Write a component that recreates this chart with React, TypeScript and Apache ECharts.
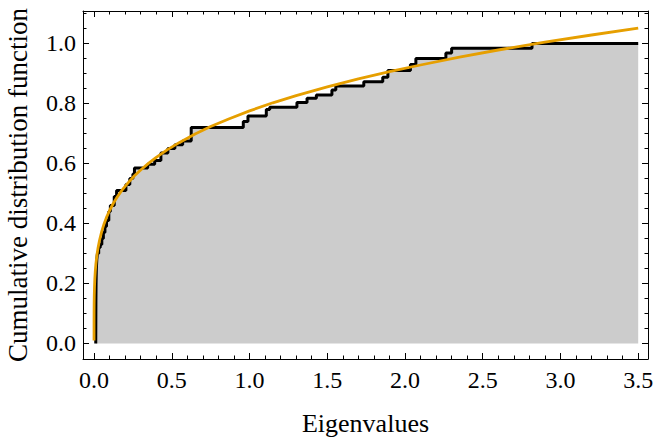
import React, { useEffect, useRef } from 'react';
import * as echarts from 'echarts';

// Empirical CDF (step positions and levels)
const cdfX = [0.011, 0.012, 0.013, 0.015, 0.018, 0.022, 0.03, 0.04, 0.05, 0.06, 0.07, 0.08, 0.095, 0.105, 0.13, 0.145, 0.205, 0.23, 0.25, 0.26, 0.345, 0.39, 0.43, 0.475, 0.52, 0.57, 0.625, 0.96, 0.99, 1.108, 1.13, 1.305, 1.37, 1.43, 1.53, 1.555, 1.735, 1.857, 1.89, 2.035, 2.07, 2.263, 2.3, 2.817, 3.5];
const cdfY = [0, 0.14, 0.2, 0.25, 0.28, 0.3, 0.32, 0.33, 0.35, 0.37, 0.39, 0.41, 0.44, 0.46, 0.49, 0.51, 0.53, 0.55, 0.565, 0.585, 0.597, 0.61, 0.635, 0.65, 0.662, 0.675, 0.72, 0.74, 0.758, 0.78, 0.787, 0.803, 0.817, 0.828, 0.845, 0.858, 0.872, 0.887, 0.91, 0.93, 0.95, 0.968, 0.984, 1.0, 1.0];

// Fitted curve (orange)
const fitX = [0, 0.00002, 0.0001, 0.0003, 0.0007, 0.0015, 0.003, 0.005, 0.008, 0.012, 0.018, 0.025, 0.035, 0.05, 0.065, 0.08, 0.1, 0.125, 0.15, 0.18, 0.22, 0.26, 0.3, 0.35, 0.4, 0.47, 0.55, 0.65, 0.75, 0.87, 1.0, 1.15, 1.3, 1.5, 1.7, 1.9, 2.1, 2.35, 2.6, 2.9, 3.2, 3.5];
const fitY = [0.01, 0.056, 0.083, 0.108, 0.133, 0.16, 0.189, 0.215, 0.24, 0.265, 0.292, 0.316, 0.343, 0.374, 0.399, 0.42, 0.443, 0.468, 0.489, 0.511, 0.536, 0.559, 0.578, 0.6, 0.62, 0.645, 0.67, 0.698, 0.723, 0.749, 0.775, 0.802, 0.826, 0.855, 0.882, 0.906, 0.928, 0.954, 0.978, 1.004, 1.028, 1.051];

// Ticks
const majorX = [0, 0.5, 1.0, 1.5, 2.0, 2.5, 3.0, 3.5];
const minorX = [0.1, 0.2, 0.3, 0.4, 0.6, 0.7, 0.8, 0.9, 1.1, 1.2, 1.3, 1.4, 1.6, 1.7, 1.8, 1.9, 2.1, 2.2, 2.3, 2.4, 2.6, 2.7, 2.8, 2.9, 3.1, 3.2, 3.3, 3.4];
const majorY = [0, 0.2, 0.4, 0.6, 0.8, 1.0];
const minorY = [0.05, 0.1, 0.15, 0.25, 0.3, 0.35, 0.45, 0.5, 0.55, 0.65, 0.7, 0.75, 0.85, 0.9, 0.95, 1.05, 1.1];

const X_MIN = -0.071;
const X_MAX = 3.563;
const Y_MIN = -0.052;
const Y_MAX = 1.108;

const FONT = 'Liberation Serif';
const BLACK = '#000000';

function axis(kind: 'x' | 'y', position: string, ticks: number[], major: boolean, showLine: boolean, withLabels: boolean, extra: any = {}) {
  return {
    type: 'value',
    position,
    min: kind === 'x' ? X_MIN : Y_MIN,
    max: kind === 'x' ? X_MAX : Y_MAX,
    splitLine: { show: false },
    axisLine: { show: showLine, onZero: false, lineStyle: { color: BLACK, width: 1 } },
    axisTick: {
      show: true,
      inside: true,
      length: major ? 6 : 3.5,
      customValues: ticks,
      lineStyle: { color: BLACK, width: 1 },
    },
    axisLabel: withLabels
      ? {
          show: true,
          customValues: ticks,
          formatter: (v: number) => v.toFixed(1),
          fontFamily: FONT,
          fontSize: 24,
          color: BLACK,
          margin: kind === 'x' ? 9 : 7,
        }
      : { show: false },
    ...extra,
  };
}

export default function App() {
  const ref = useRef<HTMLDivElement>(null);
  useEffect(() => {
    if (!ref.current) return;
    const chart = echarts.init(ref.current, null, { renderer: 'svg' });
    const cdfData = cdfX.map((x, i) => [x, cdfY[i]]);
    const fitData = fitX.map((x, i) => [x, fitY[i]]);
    chart.setOption({
      animation: false,
      backgroundColor: '#ffffff',
      textStyle: { fontFamily: FONT },
      grid: { left: 83, right: 5, top: 11, bottom: 82, containLabel: false, outerBoundsMode: 'none' },
      xAxis: [
        axis('x', 'bottom', majorX, true, true, true, {
          name: 'Eigenvalues',
          nameLocation: 'middle',
          nameGap: 51,
          nameTextStyle: { fontFamily: FONT, fontSize: 26, color: BLACK },
        }),
        axis('x', 'bottom', minorX, false, false, false),
        axis('x', 'top', majorX, true, true, false),
        axis('x', 'top', minorX, false, false, false),
      ],
      yAxis: [
        axis('y', 'left', majorY, true, true, true, {
          name: 'Cumulative distribution function',
          nameLocation: 'middle',
          nameGap: 52,
          nameTextStyle: { fontFamily: FONT, fontSize: 27, color: BLACK },
        }),
        axis('y', 'left', minorY, false, false, false),
        axis('y', 'right', majorY, true, true, false),
        axis('y', 'right', minorY, false, false, false),
      ],
      series: [
        {
          type: 'line',
          xAxisIndex: 0,
          yAxisIndex: 0,
          data: cdfData,
          step: 'end',
          showSymbol: false,
          symbol: 'none',
          lineStyle: { color: BLACK, width: 3 },
          areaStyle: { color: '#cccccc', opacity: 1 },
          z: 2,
        },
        {
          type: 'line',
          xAxisIndex: 0,
          yAxisIndex: 0,
          data: fitData,
          smooth: false,
          showSymbol: false,
          symbol: 'none',
          lineStyle: { color: '#E69F00', width: 2.8, join: 'round' },
          z: 3,
        },
      ],
    });
    return () => chart.dispose();
  }, []);
  return <div ref={ref} style={{ position: 'absolute', left: 0, top: 0, width: 653, height: 441 }} />;
}
